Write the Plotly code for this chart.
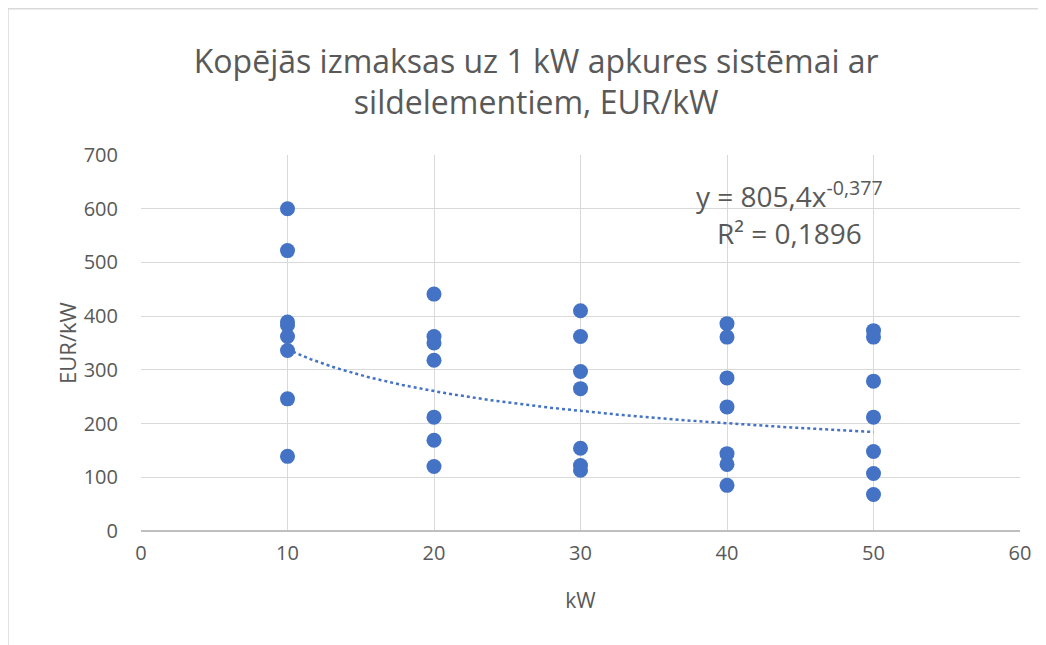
import numpy as np
import plotly.graph_objects as go

# Data
kw_10 = [10] * 8
eur_10 = [600, 522, 389, 383, 362, 336, 246, 139]
kw_20 = [20] * 7
eur_20 = [441, 362, 350, 318, 212, 169, 120]
kw_30 = [30] * 7
eur_30 = [410, 362, 297, 265, 154, 122, 113]
kw_40 = [40] * 7
eur_40 = [386, 361, 285, 231, 144, 124, 85]
kw_50 = [50] * 7
eur_50 = [373, 361, 279, 212, 148, 107, 68]

x_vals = kw_10 + kw_20 + kw_30 + kw_40 + kw_50
y_vals = eur_10 + eur_20 + eur_30 + eur_40 + eur_50

# Power trendline reported in the chart
coef_a = 805.4
coef_b = -0.377
eq_text = "y = 805,4x<sup>-0,377</sup>"
r2_text = "R² = 0,1896"

title_text = "Kopējās izmaksas uz 1 kW apkures sistēmai ar<br>sildelementiem, EUR/kW"
x_title = "kW"
y_title = "EUR/kW"

blue = "#4472C4"
grid = "#d9d9d9"
txt = "#595959"
font_family = "Open Sans"

trend_x = np.linspace(min(x_vals), max(x_vals), 200)
trend_y = coef_a * trend_x ** coef_b

fig = go.Figure()
fig.add_trace(go.Scatter(
    x=trend_x, y=trend_y, mode="lines",
    line=dict(color=blue, width=2.5, dash="dot"),
    hoverinfo="skip", showlegend=False,
))
fig.add_trace(go.Scatter(
    x=x_vals, y=y_vals, mode="markers",
    marker=dict(color=blue, size=15),
    showlegend=False,
))

fig.update_layout(
    width=1046, height=645,
    paper_bgcolor="white", plot_bgcolor="white",
    margin=dict(l=133, r=34, t=147, b=122),
    title=dict(text=title_text, x=0.505, xanchor="center", xref="container",
               y=0.90, yanchor="top", yref="container",
               font=dict(family=font_family, size=32, color=txt)),
    font=dict(family=font_family, color=txt),
    xaxis=dict(
        range=[0, 60], tick0=0, dtick=10,
        showgrid=True, gridcolor=grid, gridwidth=1,
        zeroline=False, showline=False,
        tickfont=dict(size=20, color=txt),
        title=dict(text=x_title, font=dict(size=21, color=txt), standoff=28),
        ticks="", ticklabelstandoff=8,
    ),
    yaxis=dict(
        range=[0, 700], tick0=0, dtick=100,
        showgrid=True, gridcolor=grid, gridwidth=1,
        zeroline=True, zerolinecolor="#bfbfbf", zerolinewidth=1.5,
        showline=False,
        tickfont=dict(size=20, color=txt),
        title=dict(text=y_title, font=dict(size=22, color=txt), standoff=0),
        ticks="", ticklabelstandoff=22,
    ),
    annotations=[
        dict(text=eq_text, x=0.738, y=0.894, xref="paper", yref="paper",
             xanchor="center", yanchor="middle", showarrow=False,
             font=dict(family=font_family, size=28, color=txt)),
        dict(text=r2_text, x=0.738, y=0.793, xref="paper", yref="paper",
             xanchor="center", yanchor="middle", showarrow=False,
             font=dict(family=font_family, size=28, color=txt)),
    ],
    shapes=[
        dict(type="rect", xref="paper", yref="paper",
             x0=-0.1513, x1=1.2, y0=-0.4, y1=1.389,
             line=dict(color=grid, width=1.5), layer="below"),
    ],
)

fig.write_html("out.html")
